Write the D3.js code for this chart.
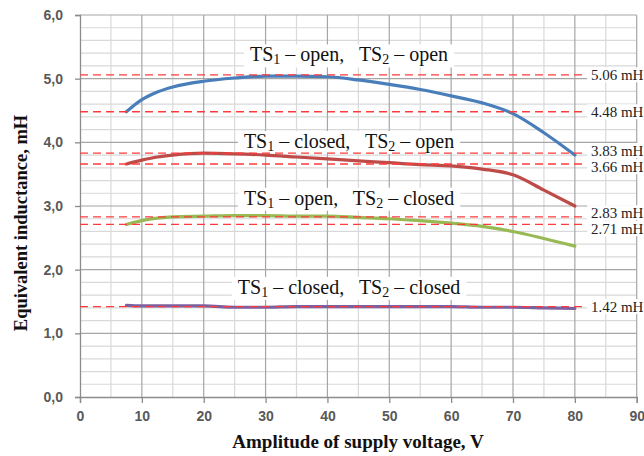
<!DOCTYPE html>
<html>
<head>
<meta charset="utf-8">
<script src="https://cdn.jsdelivr.net/npm/d3@7"></script>
<style>
  body { margin: 0; background: #fff; }
  svg { display: block; }
</style>
</head>
<body>
<div id="chart"></div>
<script>
// Equivalent inductance vs supply voltage amplitude

// data
const voltage = [7.5, 10, 12.5, 15, 20, 25, 30, 35, 40, 45, 50, 55, 60, 65, 70, 75, 80]
const openOpen = [4.48, 4.67, 4.79, 4.87, 4.96, 5.01, 5.04, 5.04, 5.03, 4.98, 4.91, 4.83, 4.73, 4.62, 4.45, 4.15, 3.80]
const closedOpen = [3.66, 3.72, 3.77, 3.80, 3.83, 3.82, 3.80, 3.77, 3.74, 3.71, 3.68, 3.65, 3.63, 3.58, 3.49, 3.25, 3.00]
const openClosed = [2.71, 2.77, 2.81, 2.83, 2.84, 2.85, 2.85, 2.84, 2.84, 2.82, 2.80, 2.77, 2.73, 2.68, 2.60, 2.49, 2.37]
const closedClosed = [1.44, 1.43, 1.43, 1.43, 1.43, 1.41, 1.41, 1.42, 1.42, 1.42, 1.42, 1.42, 1.42, 1.41, 1.41, 1.40, 1.39]

const refLevels = [5.06, 4.48, 3.83, 3.66, 2.83, 2.71, 1.42]
const refLabels = ['5.06 mH', '4.48 mH', '3.83 mH', '3.66 mH', '2.83 mH', '2.71 mH', '1.42 mH']

const xTicks = [0, 10, 20, 30, 40, 50, 60, 70, 80, 90]
const yTicks = [0, 1, 2, 3, 4, 5, 6]
const yTickLabels = ['0,0', '1,0', '2,0', '3,0', '4,0', '5,0', '6,0']

// curve captions: TS1 state, TS2 state, anchor (voltage, inductance)
const captionTs1 = ['open', 'closed', 'open', 'closed']
const captionTs2 = ['open', 'open', 'closed', 'closed']
const captionX = [43.5, 43.5, 43.5, 43.5]
const captionY = [5.27, 3.91, 3.02, 1.62]

const series = [
  { values: openOpen, color: '#4a7ebb' },
  { values: closedOpen, color: '#be4b48' },
  { values: openClosed, color: '#98b954' },
  { values: closedClosed, color: '#7d60a0' },
]

const width = 644
const height = 456
const margin = { top: 15, right: 7.3, bottom: 59, left: 80 }

const svg = d3.select('#chart')
  .append('svg')
    .attr('width', width)
    .attr('height', height)

const x = d3.scaleLinear().domain([0, 90]).range([margin.left, width - margin.right])
const y = d3.scaleLinear().domain([0, 6]).range([height - margin.bottom, margin.top])

// grid
const grid = svg.append('g')
grid.selectAll('line.hminor')
  .data(d3.range(0, 31).map((i) => i * 0.2).filter((v) => Math.abs(v - Math.round(v)) > 0.01))
  .enter()
  .append('line')
    .attr('x1', x(0)).attr('x2', x(90))
    .attr('y1', (d) => y(d)).attr('y2', (d) => y(d))
    .attr('stroke', '#d9d9d9').attr('stroke-width', 1.2)
grid.selectAll('line.vminor')
  .data(d3.range(5, 90, 10))
  .enter()
  .append('line')
    .attr('x1', (d) => x(d)).attr('x2', (d) => x(d))
    .attr('y1', y(0)).attr('y2', y(6))
    .attr('stroke', '#d9d9d9').attr('stroke-width', 1.2)
grid.selectAll('line.hmajor')
  .data(yTicks.slice(1))
  .enter()
  .append('line')
    .attr('x1', x(0)).attr('x2', x(90))
    .attr('y1', (d) => y(d)).attr('y2', (d) => y(d))
    .attr('stroke', '#a6a6a6').attr('stroke-width', 1.2)
grid.selectAll('line.vmajor')
  .data(xTicks.slice(1))
  .enter()
  .append('line')
    .attr('x1', (d) => x(d)).attr('x2', (d) => x(d))
    .attr('y1', y(0)).attr('y2', y(6))
    .attr('stroke', '#a6a6a6').attr('stroke-width', 1.2)

// axes
const xAxis = svg.append('g')
  .attr('transform', `translate(0,${y(0)})`)
  .call(d3.axisBottom(x).tickValues(xTicks).tickSize(6).tickPadding(8).tickFormat(d3.format('d')))
const yAxis = svg.append('g')
  .attr('transform', `translate(${x(0)},0)`)
  .call(d3.axisLeft(y).tickValues(yTicks).tickSize(5).tickPadding(12).tickFormat((d, i) => yTickLabels[i]))

;[xAxis, yAxis].forEach((a) => {
  a.select('.domain').attr('stroke', '#8c8c8c').attr('stroke-width', 1.3)
  a.selectAll('.tick line').attr('stroke', '#8c8c8c').attr('stroke-width', 1.3)
  a.selectAll('.tick text')
    .attr('fill', '#595959')
    .attr('font-family', 'Liberation Sans, Arial, sans-serif')
    .attr('font-weight', 'bold')
    .attr('font-size', 14)
})

// captions (white boxes hide the grid, curves pass over them)
captionTs1.forEach((s1, i) => {
  const g = svg.append('g')
  const t = g.append('text')
    .attr('x', x(captionX[i]))
    .attr('y', y(captionY[i]))
    .attr('text-anchor', 'middle')
    .attr('font-family', 'Liberation Serif, serif')
    .attr('font-size', 20)
    .attr('fill', '#111')
  t.append('tspan').text('TS')
  t.append('tspan').attr('font-size', 14).attr('dy', 3).text('1')
  t.append('tspan').attr('dy', -3).text(` \u2013 ${s1},\u00a0\u00a0 TS`)
  t.append('tspan').attr('font-size', 14).attr('dy', 3).text('2')
  t.append('tspan').attr('dy', -3).text(` \u2013 ${captionTs2[i]}`)
  const b = t.node().getBBox()
  g.insert('rect', 'text')
    .attr('x', b.x - 6)
    .attr('y', b.y + 1)
    .attr('width', b.width + 12)
    .attr('height', b.height - 1)
    .attr('fill', '#fff')
})

// curves
const line = d3.line()
  .x((d, i) => x(voltage[i]))
  .y((d) => y(d))
  .curve(d3.curveMonotoneX)

svg.selectAll('path.series')
  .data(series)
  .enter()
  .append('path')
    .attr('class', 'series')
    .attr('d', (d) => line(d.values))
    .attr('fill', 'none')
    .attr('stroke', (d) => d.color)
    .attr('stroke-width', 3.2)
    .attr('stroke-linecap', 'round')

// reference levels
svg.selectAll('line.ref')
  .data(refLevels)
  .enter()
  .append('line')
    .attr('class', 'ref')
    .attr('x1', x(0)).attr('x2', x(81.5))
    .attr('y1', (d) => y(d)).attr('y2', (d) => y(d))
    .attr('stroke', '#ff3b3b')
    .attr('stroke-width', 1.3)
    .attr('stroke-dasharray', '8,5')

// spread labels that sit too close together
let refPos = refLevels.map((d) => y(d))
for (let i = 1; i < refPos.length; i++) {
  let gap = refPos[i] - refPos[i - 1]
  if (gap < 16) {
    let push = (16 - gap) / 2
    refPos[i - 1] -= push
    refPos[i] += push
  }
}

const refG = svg.selectAll('g.reflabel')
  .data(refLevels)
  .enter()
  .append('g')
    .attr('class', 'reflabel')
refG.append('rect')
  .attr('x', x(82))
  .attr('y', (d, i) => refPos[i] - 7.5)
  .attr('width', 80)
  .attr('height', 15)
  .attr('fill', '#fff')
refG.append('text')
  .attr('x', x(82.6))
  .attr('y', (d, i) => refPos[i])
  .attr('dy', '0.35em')
  .attr('font-family', 'Liberation Serif, serif')
  .attr('font-size', 15)
  .attr('fill', '#222')
  .text((d, i) => refLabels[i])

// axis titles
svg.append('text')
  .attr('x', 358)
  .attr('y', 448)
  .attr('text-anchor', 'middle')
  .attr('font-family', 'Liberation Serif, serif')
  .attr('font-weight', 'bold')
  .attr('font-size', 19)
  .attr('fill', '#111')
  .text('Amplitude of supply voltage, V')

svg.append('text')
  .attr('transform', 'translate(27,223) rotate(-90)')
  .attr('text-anchor', 'middle')
  .attr('font-family', 'Liberation Serif, serif')
  .attr('font-weight', 'bold')
  .attr('font-size', 18.5)
  .attr('fill', '#111')
  .text('Equivalent inductance, mH')
</script>
</body>
</html>
